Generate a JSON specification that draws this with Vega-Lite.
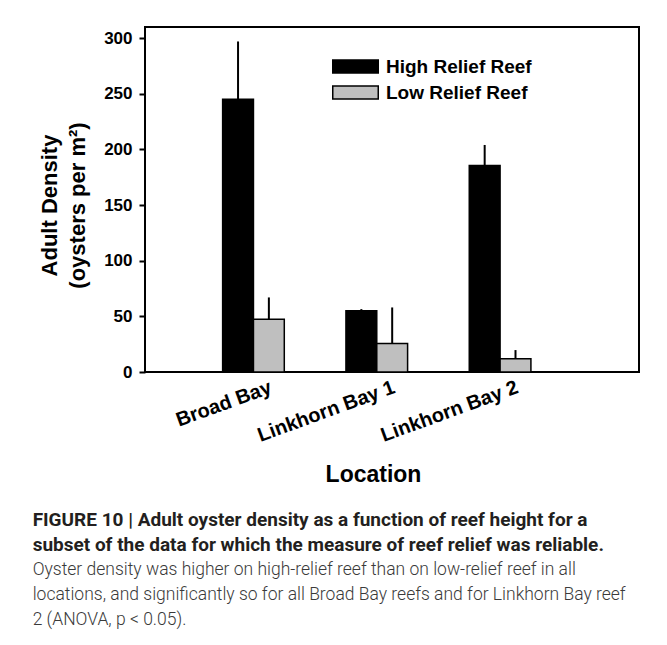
{
  "$schema": "https://vega.github.io/schema/vega-lite/v6.json",
  "autosize": {"type": "none"},
  "padding": {"left": 145, "top": 27, "right": 28, "bottom": 273},
  "width": 494,
  "height": 345,
  "background": "white",
  "config": {
    "view": {"stroke": "black", "strokeWidth": 2},
    "font": "Liberation Sans"
  },
  "title": {
    "text": ["FIGURE 10 | Adult oyster density as a function of reef height for a", "subset of the data for which the measure of reef relief was reliable."],
    "subtitle": ["Oyster density was higher on high-relief reef than on low-relief reef in all", "locations, and significantly so for all Broad Bay reefs and for Linkhorn Bay reef", "2 (ANOVA, p < 0.05)."],
    "orient": "bottom",
    "anchor": "start",
    "frame": "bounds",
    "font": "Roboto",
    "fontSize": 19,
    "fontWeight": "bold",
    "color": "#231f20",
    "lineHeight": 25,
    "subtitleFont": "Roboto",
    "subtitleFontSize": 17.5,
    "subtitleFontWeight": 300,
    "subtitleColor": "#3a3a3a",
    "subtitleLineHeight": 25,
    "subtitlePadding": 6,
    "offset": 25,
    "dx": -6
  },
  "data": {
    "values": [
      {"location": "Broad Bay", "reef": "High Relief Reef", "density": 245, "upper": 297},
      {"location": "Broad Bay", "reef": "Low Relief Reef", "density": 47.5, "upper": 67},
      {"location": "Linkhorn Bay 1", "reef": "High Relief Reef", "density": 55, "upper": 56.5},
      {"location": "Linkhorn Bay 1", "reef": "Low Relief Reef", "density": 25.7, "upper": 58},
      {"location": "Linkhorn Bay 2", "reef": "High Relief Reef", "density": 185.6, "upper": 204},
      {"location": "Linkhorn Bay 2", "reef": "Low Relief Reef", "density": 12, "upper": 19.7}
    ]
  },
  "encoding": {
    "x": {
      "field": "location",
      "type": "nominal",
      "sort": ["Broad Bay", "Linkhorn Bay 1", "Linkhorn Bay 2"],
      "scale": {"paddingInner": 0.5, "paddingOuter": 0.753, "align": 0.418},
      "axis": {
        "title": "Location",
        "titleFont": "Liberation Sans",
        "titleFontSize": 23,
        "titleFontWeight": "bold",
        "titleColor": "black",
        "titleX": 228,
        "titlePadding": 18,
        "labelAngle": -20,
        "labelAlign": "right",
        "labelBaseline": "top",
        "labelOffset": 14,
        "labelPadding": 5,
        "labelFontSize": 20,
        "labelFontWeight": "bold",
        "labelColor": "black",
        "ticks": false,
        "domain": false,
        "grid": false
      }
    },
    "xOffset": {
      "field": "reef",
      "type": "nominal",
      "scale": {"paddingInner": 0, "paddingOuter": 0}
    }
  },
  "layer": [
    {
      "mark": {"type": "bar", "stroke": "black", "strokeWidth": 1.5},
      "encoding": {
        "y": {
          "field": "density",
          "type": "quantitative",
          "scale": {"domain": [0, 310], "nice": false},
          "axis": {
            "title": ["Adult Density", "(oysters per m²)"],
            "titleFontSize": 22,
            "titleFontWeight": "bold",
            "titleColor": "black",
            "titleLineHeight": 28,
            "titlePadding": 14,
            "titleY": 178,
            "values": [0, 25, 50, 75, 100, 125, 150, 175, 200, 225, 250, 275, 300],
            "labelExpr": "datum.value % 50 == 0 ? datum.label : ''",
            "labelFontSize": 17,
            "labelFontWeight": "bold",
            "labelColor": "black",
            "labelPadding": 7,
            "tickSize": 6,
            "tickWidth": 2,
            "tickColor": "black",
            "domain": false,
            "grid": false
          }
        },
        "fill": {
          "field": "reef",
          "type": "nominal",
          "scale": {"domain": ["High Relief Reef", "Low Relief Reef"], "range": ["#000000", "#bfbfbf"]},
          "legend": {
            "title": null,
            "orient": "none",
            "legendX": 201,
            "legendY": 30,
            "padding": 0,
            "symbolType": "M-3.5,-1H3.5V1H-3.5Z",
            "symbolSize": 169,
            "symbolStrokeColor": "black",
            "symbolStrokeWidth": 1.5,
            "symbolOpacity": 1,
            "labelFont": "Liberation Sans",
            "labelFontSize": 19,
            "labelFontWeight": "bold",
            "labelColor": "black",
            "labelOffset": 21,
            "rowPadding": 6
          }
        }
      }
    },
    {
      "mark": {"type": "rule", "color": "black", "strokeWidth": 2},
      "encoding": {
        "y": {"field": "density", "type": "quantitative"},
        "y2": {"field": "upper"}
      }
    }
  ]
}
